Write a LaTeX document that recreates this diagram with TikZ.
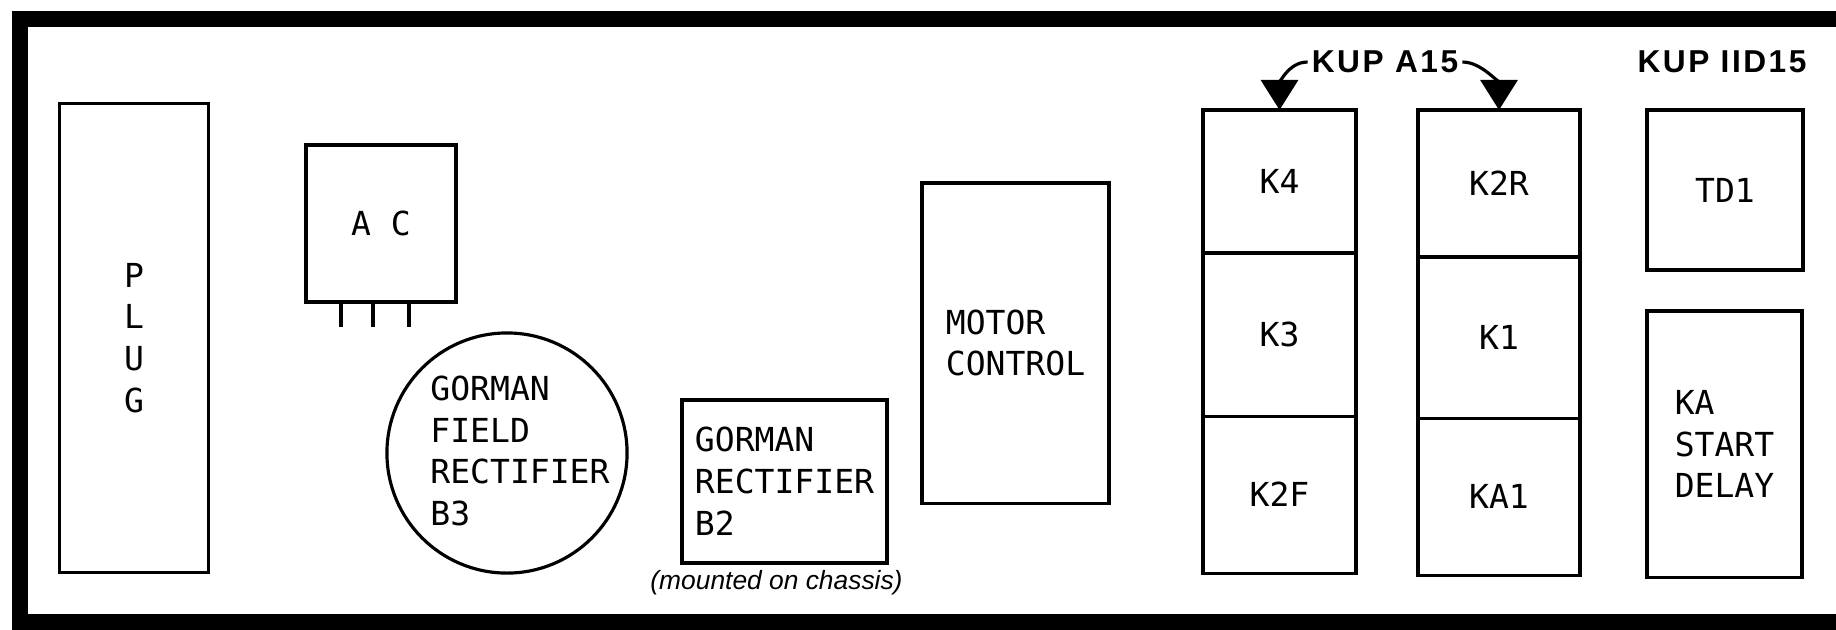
\documentclass[tikz,border=0pt]{standalone}
\usepackage{fontspec}
\usetikzlibrary{positioning,arrows.meta}
\newfontfamily\partfont{DejaVu Sans Mono}
\newfontfamily\kupfont{Liberation Sans}[LetterSpace=8]
\newfontfamily\notefont{Liberation Sans}

\tikzset{
  parttext/.style={inner sep=0pt, align=left,
    font=\partfont\fontsize{9.4}{11.9}\selectfont},
  unit/.style={parttext, draw, line width=0.9pt, outer sep=0pt},
  kuplabel/.style={inner sep=1pt, font=\kupfont\bfseries\fontsize{9}{11}\selectfont},
  kuparrow/.style={line width=0.9pt, -{Triangle[width=0.37cm,length=0.30cm]}},
}

\begin{document}
\begin{tikzpicture}[x=0.01cm, y=-0.01cm]
    \useasboundingbox (0,0) rectangle (1836,629);
    \clip (0,0) rectangle (1836,629);

    % Chassis outline (runs off to the right)
    \draw[line width=4.3pt] (1860,19) -- (20,19) -- (20,622) -- (1860,622);

    % Plug and AC
    \node[unit, align=center, minimum width=1.49cm, minimum height=4.68cm] (plug) at (134,338) {P\\L\\U\\G};
    \node[unit, minimum width=1.50cm, minimum height=1.57cm] (ac) at (381,223.5) {A C};
    \foreach \dx in {-0.40,-0.08,0.28}
        \draw[line width=0.9pt] ([xshift=\dx cm]ac.south) -- ++(0,25);

    % Rectifiers
    \node[unit, circle, minimum size=2.40cm] (b3) at (507,453) {};
    \node[parttext] (b3lbl) at (520,451) {GORMAN\\FIELD\\RECTIFIER\\B3};
    \node[unit, minimum width=2.05cm, minimum height=1.63cm] (b2) at (784.5,481.5) {GORMAN\\RECTIFIER\\B2};
    \node[inner sep=1pt, font=\notefont\itshape\fontsize{7.5}{9}\selectfont,
          below=1pt of b2, xshift=-0.08cm] (b2note) {(mounted on chassis)};

    % Motor control
    \node[unit, minimum width=1.87cm, minimum height=3.20cm] (motor) at (1015.5,343) {MOTOR\\CONTROL};

    % KUP A15 relay stacks
    \node[unit, minimum width=1.53cm, minimum height=1.43cm] (k4) at (1279.5,181.5) {K4};
    \node[unit, minimum width=1.53cm, minimum height=1.63cm, below=0pt of k4] (k3) {K3};
    \node[unit, minimum width=1.53cm, minimum height=1.57cm, below=0pt of k3] (k2f) {K2F};

    \node[unit, minimum width=1.62cm, minimum height=1.47cm] (k2r) at (1499,183.5) {K2R};
    \node[unit, minimum width=1.62cm, minimum height=1.61cm, below=0pt of k2r] (k1) {K1};
    \node[unit, minimum width=1.62cm, minimum height=1.57cm, below=0pt of k1] (ka1) {KA1};

    \node[kuplabel] (kupa) at (1385,62) {KUP A15};
    \draw[kuparrow] (kupa.west) .. controls +(-20,0) and +(0,-25) .. (k4.north);
    \draw[kuparrow] (kupa.east) .. controls +(20,0) and +(0,-25) .. (k2r.north);

    % KUP IID15 units
    \node[kuplabel] (kupd) at (1722,62) {KUP IID15};
    \node[unit, minimum width=1.56cm, minimum height=1.60cm] (td1) at (1725,190) {TD1};
    \node[unit, minimum width=1.55cm, minimum height=2.66cm] (kadelay) at (1724.5,444) {KA\\START\\DELAY};
\end{tikzpicture}
\end{document}
